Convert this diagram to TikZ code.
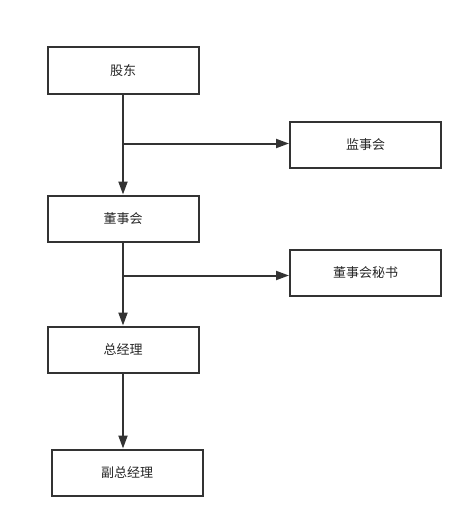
\documentclass[tikz,border=0pt]{standalone}
\usepackage{fontspec}
\setmainfont{Noto Sans CJK SC}
\usetikzlibrary{arrows.meta,positioning}

\begin{document}
\begin{tikzpicture}[x=1pt,y=-1pt,->,>={Triangle[length=13pt,width=9pt]},line width=2pt,draw=black!80]
          \tikzstyle{every node}=[font=\fontsize{13}{13}\selectfont,text=black!85]
          \tikzstyle{orgbox}=[draw=black!80,line width=2pt,minimum width=151pt,minimum height=46pt,inner sep=0pt]
          \useasboundingbox (0,0) rectangle (472,527);
          \node[orgbox] (gudong)     at (123,70.5)   {股东};
          \node[orgbox] (jianshi)    at (365.5,144.5) {监事会};
          \node[orgbox] (dongshi)    at (123,218.5)  {董事会};
          \node[orgbox] (mishu)      at (365.5,273)  {董事会秘书};
          \node[orgbox] (zongjingli) at (123,349.5)  {总经理};
          \node[orgbox] (fuzong)     at (127,472.5)  {副总经理};
          \coordinate (b1) at (123,143.5);
          \coordinate (b2) at (123,275.5);

          \draw (gudong.south) -- (dongshi.north);
          \draw (b1) -- (b1 -| jianshi.west);
          \draw (dongshi.south) -- (zongjingli.north);
          \draw (b2) -- (b2 -| mishu.west);
          \draw (zongjingli.south) -- (zongjingli.south |- fuzong.north);
\end{tikzpicture}
\end{document}
